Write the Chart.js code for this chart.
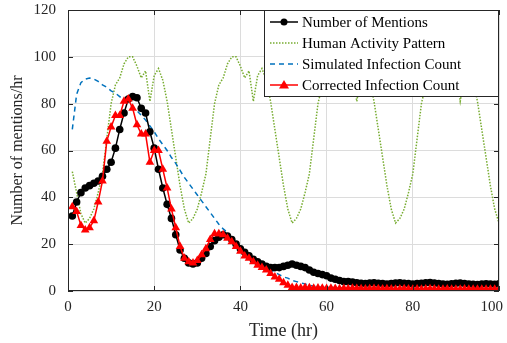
<!DOCTYPE html>
<html>
<head>
<meta charset="utf-8">
<script src="https://cdn.jsdelivr.net/npm/chart.js@4.4.1/dist/chart.umd.min.js"></script>
<style>
  html, body { margin: 0; padding: 0; background: #fff; }
  #wrap { width: 507px; height: 343px; position: relative; }
</style>
</head>
<body>
<div id="wrap"><canvas id="chart"></canvas></div>
<script>
"use strict";
// hours 1..100
var hours = [1,2,3,4,5,6,7,8,9,10,11,12,13,14,15,16,17,18,19,20,
  21,22,23,24,25,26,27,28,29,30,31,32,33,34,35,36,37,38,39,40,
  41,42,43,44,45,46,47,48,49,50,51,52,53,54,55,56,57,58,59,60,
  61,62,63,64,65,66,67,68,69,70,71,72,73,74,75,76,77,78,79,80,
  81,82,83,84,85,86,87,88,89,90,91,92,93,94,95,96,97,98,99,100];

var mentions = [32,38,42,44,45,46,47,49,52,55,61,69,76,82,83,82.5,78,76,68,61,
  52,44,37,31,24,17.5,14,12,11.5,12,14,16,19,21.5,23,24,23.5,22,20,18,
  16.5,15,13.5,12.5,11.5,10.5,10,10,10,10.5,11,11.5,11,10.5,10,9,8,7.5,7,6.5,
  5.5,5,4.5,4,4,3.8,3.5,3.3,3.2,3.4,3.5,3.3,3.2,3,3.2,3.4,3.5,3.3,3.2,3,
  3.2,3.3,3.5,3.6,3.4,3.2,3,2.9,3.1,3.3,3.4,3.2,3,2.9,2.8,3,3.1,3,2.9,3.1];

var activity = [51,42,33,29,31,35,42,50,65,80,88,91,97,100,100,96,91,94,81,92,
  95,90,81,69,57,45,35,29,31,35,42,50,65,80,88,91,97,100,100,96,
  91,94,81,92,95,90,81,69,57,45,35,29,31,35,42,50,65,80,88,91,
  97,100,100,96,91,94,81,92,95,90,81,69,57,45,35,29,31,35,42,50,
  65,80,88,91,97,100,100,96,91,94,81,92,95,90,81,69,57,45,35,29];

var simHours = [1,2,3,4,5,6,7,8,9,10,11,12,13,14,15,16,17,18,19,20,
  21,22,23,24,25,26,27,28,29,30,31,32,33,34,35,36,37,38,39,40,
  41,42,43,44,45,46,47,48,49,50,51,52,53,54,55,56,57,58,59,60,70,80,90,100];
var simulated = [69,84,89,90.5,91,90.5,89.5,88,87,85.5,84.5,83,81.5,80,78.5,77,75,73,70.5,68,
  65,62.5,60,57,54.5,51.5,48.5,46,43.5,41,38.5,36,33.5,31,28.5,26.5,25,22.5,20.5,18.5,
  17,15.5,14,12.5,11,10,9,8,7,6,5.5,4.5,4,3.5,3,2.5,2,1.8,1.6,1.5,1.2,1,0.9,0.8];

var corrected = [36,34,28,26,27,30,38,47,64,70,75,75,81,82,78,71,67,67,55,60,
  60,52,44,35,27,19,14,12.5,12,13,15.5,18,22,24.5,24.5,24,22.5,21,19,17,
  15,14,12.5,11,10,9,7.5,6,5,3.5,2.5,1.5,1.5,1.3,1.5,1.4,1.2,1.3,1.2,1.1,
  1.2,1.1,1,1.1,1,1.2,1.1,1,0.9,1,1.1,1,0.9,1,0.9,0.8,0.9,1,0.9,0.8,
  0.9,0.8,0.9,1,0.9,0.8,0.8,0.9,0.8,0.7,0.8,0.9,0.8,0.7,0.8,0.8,0.7,0.8,0.7,0.8];

var xTicks = [0, 20, 40, 60, 80, 100];
var yTicks = [0, 20, 40, 60, 80, 100, 120];

function pts(xs, ys) {
  return xs.map(function (x, i) { return { x: x, y: ys[i] }; });
}

var FONT = "'Liberation Serif', 'Times New Roman', serif";
var AXIS = "#262626";

var frame = {
  id: "frame",
  afterDraw: function (c) {
    var g = c.ctx, a = c.chartArea, sx = c.scales.x, sy = c.scales.y;
    g.save();
    g.strokeStyle = AXIS;
    g.lineWidth = 1;
    g.strokeRect(a.left + 0.5, a.top + 0.5, a.right - a.left - 1, a.bottom - a.top - 1);
    g.beginPath();
    xTicks.forEach(function (v) {
      var px = Math.round(sx.getPixelForValue(v)) + 0.5;
      g.moveTo(px, a.bottom); g.lineTo(px, a.bottom - 5);
      g.moveTo(px, a.top); g.lineTo(px, a.top + 5);
    });
    yTicks.forEach(function (v) {
      var py = Math.round(sy.getPixelForValue(v)) + 0.5;
      g.moveTo(a.left, py); g.lineTo(a.left + 5, py);
      g.moveTo(a.right, py); g.lineTo(a.right - 5, py);
    });
    g.stroke();

    // x tick labels (last one kept inside the canvas)
    g.font = "15px " + FONT;
    g.fillStyle = AXIS;
    g.textBaseline = "middle";
    g.textAlign = "center";
    xTicks.forEach(function (v) {
      var s = String(v), w = g.measureText(s).width;
      var px = Math.min(sx.getPixelForValue(v), c.width - 4 - w / 2);
      g.fillText(s, px, a.bottom + 16);
    });
    g.textAlign = "left";

    // legend box
    var lx = 264, ly = a.top, lw = a.right - lx, lh = 87;
    g.fillStyle = "#fff";
    g.fillRect(lx, ly, lw, lh);
    g.strokeStyle = AXIS;
    g.strokeRect(lx + 0.5, ly + 0.5, lw - 1, lh - 1);
    c.data.datasets.forEach(function (ds, i) {
      var y = ly + 12 + i * 21;
      g.save();
      g.strokeStyle = ds.borderColor;
      g.lineWidth = ds.borderWidth;
      g.setLineDash(ds.borderDash || []);
      g.beginPath(); g.moveTo(270, y); g.lineTo(298, y); g.stroke();
      g.restore();
      g.fillStyle = ds.borderColor;
      if (ds.pointStyle === "circle") {
        g.beginPath(); g.arc(284, y, 3.5, 0, Math.PI * 2); g.fill();
      } else if (ds.pointStyle === "triangle") {
        g.beginPath(); g.moveTo(284, y - 5); g.lineTo(289, y + 3.5); g.lineTo(279, y + 3.5); g.closePath(); g.fill();
      }
      g.fillStyle = "#000";
      g.fillText(ds.label, 302, y + 1);
    });
    g.restore();
  }
};

new Chart(document.getElementById("chart"), {
  type: "line",
  data: {
    datasets: [
      {
        label: "Number of Mentions",
        data: pts(hours, mentions),
        borderColor: "#000000",
        backgroundColor: "#000000",
        borderWidth: 1.5,
        pointStyle: "circle",
        pointRadius: 3.8,
        pointBorderWidth: 0,
        order: 1
      },
      {
        label: "Human Activity Pattern",
        data: pts(hours, activity),
        borderColor: "#77AC30",
        borderWidth: 1.5,
        borderDash: [1.5, 1.5],
        pointRadius: 0,
        order: 3
      },
      {
        label: "Simulated Infection Count",
        data: pts(simHours, simulated),
        borderColor: "#0072BD",
        borderWidth: 1.5,
        borderDash: [5, 4],
        pointRadius: 0,
        order: 2
      },
      {
        label: "Corrected Infection Count",
        data: pts(hours, corrected),
        borderColor: "#FF0000",
        backgroundColor: "#FF0000",
        borderWidth: 1.5,
        pointStyle: "triangle",
        pointRadius: 5,
        pointBorderWidth: 0,
        order: 0
      }
    ]
  },
  options: {
    responsive: true,
    maintainAspectRatio: false,
    animation: false,
    devicePixelRatio: 1,
    layout: { padding: { top: 10, right: 8, left: 0, bottom: 0 } },
    plugins: { legend: { display: false }, tooltip: { enabled: false } },
    scales: {
      x: {
        type: "linear",
        min: 0,
        max: 100,
        afterBuildTicks: function (s) { s.ticks = xTicks.map(function (v) { return { value: v }; }); },
        afterFit: function (s) { s.height = 52; s.paddingLeft = 0; s.paddingRight = 0; },
        grid: { color: "#dcdcdc", drawTicks: false },
        border: { display: false },
        ticks: { display: false },
        title: { display: true, text: "Time (hr)", color: AXIS, padding: { top: 2, bottom: 1 }, font: { family: FONT, size: 18 } }
      },
      y: {
        min: 0,
        max: 120,
        afterBuildTicks: function (s) { s.ticks = yTicks.map(function (v) { return { value: v }; }); },
        afterFit: function (s) { s.width = 68; s.paddingTop = 0; s.paddingBottom = 0; },
        grid: { color: "#dcdcdc", drawTicks: false },
        border: { display: false },
        ticks: { color: AXIS, padding: 12, font: { family: FONT, size: 15 } },
        title: { display: true, text: "Number of mentions/hr", color: AXIS, padding: { top: 8, bottom: 4 }, font: { family: FONT, size: 16 } }
      }
    }
  },
  plugins: [frame]
});
</script>
</body>
</html>
